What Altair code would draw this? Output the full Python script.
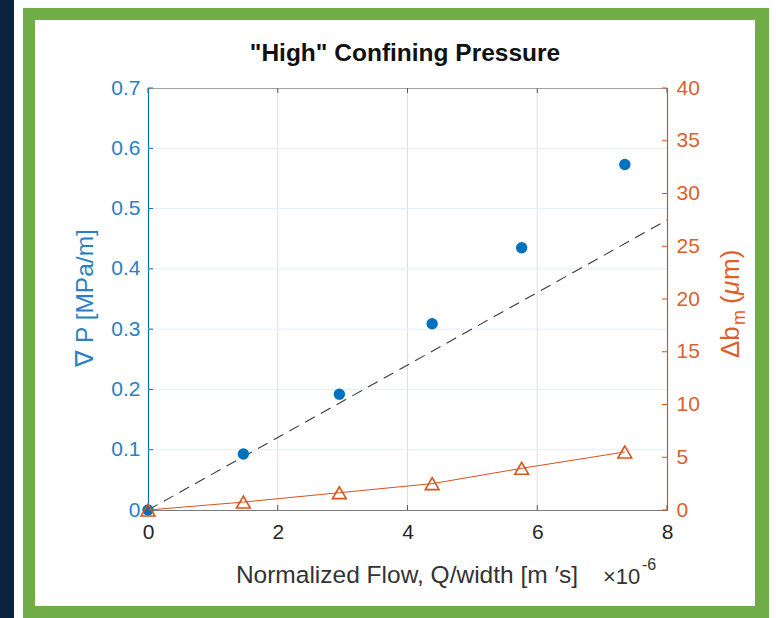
import altair as alt
import pandas as pd

# Measured series (flow in 1e-6 m^2/s)
flow = [0.0, 1.47, 2.95, 4.38, 5.76, 7.35]
grad_p = [0.0, 0.093, 0.192, 0.309, 0.435, 0.573]      # MPa/m
delta_b = [0.0, 0.75, 1.64, 2.50, 3.95, 5.50]          # micrometres

# Linear fit through the origin
fit_flow = [0.0, 8.0]
fit_grad = [0.0, 0.481]

x_ticks = [0, 2, 4, 6, 8]
left_ticks = [0, 0.1, 0.2, 0.3, 0.4, 0.5, 0.6, 0.7]
right_ticks = [0, 5, 10, 15, 20, 25, 30, 35, 40]

W, H = 519, 422
PAD_L, PAD_T = 148, 88
FONT = "Liberation Sans"
BLUE = "#0072BD"
BLUE_TXT = "#2a80c6"
ORANGE = "#D95319"
ORANGE_TXT = "#dd5f2b"
DARK = "#262626"
TICK_FS = 21

pts = pd.DataFrame({"flow": flow, "grad_p": grad_p, "delta_b": delta_b})
fit = pd.DataFrame({"flow": fit_flow, "grad_p": fit_grad})
xt = pd.DataFrame({"v": x_ticks})
xt_inner = pd.DataFrame({"v": x_ticks[1:-1]})
lt = pd.DataFrame({"v": left_ticks})
lt_inner = pd.DataFrame({"v": left_ticks[1:-1]})
rt = pd.DataFrame({"v": right_ticks})
one = pd.DataFrame({"k": [0]})

xs = alt.Scale(domain=[0, 8], nice=False, zero=False)
yl = alt.Scale(domain=[0, 0.7], nice=False, zero=False)
yr = alt.Scale(domain=[0, 40], nice=False, zero=False)

x_axis = alt.Axis(
    values=x_ticks, format="d", tickSize=0, labelPadding=11, grid=False,
    labelFlush=False, labelFont=FONT, labelFontSize=TICK_FS, labelColor=DARK,
    domainColor="#7a7a7a", domainWidth=1, title=None,
)
left_axis = alt.Axis(
    orient="left", values=left_ticks, tickSize=0, labelPadding=8,
    grid=False, title=None, labelFont=FONT, labelFontSize=TICK_FS,
    labelColor=BLUE_TXT, domainColor=BLUE, domainWidth=1.2, labelFlush=False,
    labelExpr="datum.value == 0 ? '0' : format(datum.value, '.1f')",
)
right_axis = alt.Axis(
    orient="right", values=right_ticks, format="d", tickSize=0,
    labelPadding=9, grid=False, title=None, labelFont=FONT,
    labelFontSize=TICK_FS, labelColor=ORANGE_TXT, domainColor=ORANGE,
    domainWidth=1.2, labelFlush=False,
)


def xq(field):
    return alt.X(f"{field}:Q", scale=xs, axis=x_axis)


def yleft(field):
    return alt.Y(f"{field}:Q", scale=yl, axis=left_axis)


def yright(field):
    return alt.Y(f"{field}:Q", scale=yr, axis=right_axis)


# Page decorations: dark strip and green frame
def band(x0, x1, y0, y1, color):
    return alt.Chart(one).mark_rect(color=color, clip=False).encode(
        x=alt.value(x0 - PAD_L), x2=alt.value(x1 - PAD_L),
        y=alt.value(y0 - PAD_T), y2=alt.value(y1 - PAD_T),
    )


GREEN = "#70AD47"
NAVY = "#0c2340"
deco = [
    band(0, 14, 0, 618, NAVY),
    band(23, 35, 8, 618, GREEN),
    band(23, 769, 8, 20, GREEN),
    band(755, 769, 8, 618, GREEN),
    band(23, 769, 606, 618, GREEN),
]

# Grid lines
vgrid = alt.Chart(xt_inner).mark_rule(color="#dedede", strokeWidth=1).encode(
    x=xq("v"), y=alt.value(0), y2=alt.value(H)
)
hgrid = alt.Chart(lt_inner).mark_rule(color="#e3eef7", strokeWidth=1).encode(
    y=yleft("v"), x=alt.value(0), x2=alt.value(W)
)

# Inward ticks
tick_col = "#5a5a5a"
xt_bot = alt.Chart(xt).mark_rule(color=tick_col).encode(
    x=xq("v"), y=alt.value(H - 5), y2=alt.value(H)
)
xt_top = alt.Chart(xt).mark_rule(color=tick_col).encode(
    x=xq("v"), y=alt.value(0), y2=alt.value(5)
)
lt_marks = alt.Chart(lt).mark_rule(color=BLUE).encode(
    y=yleft("v"), x=alt.value(0), x2=alt.value(5)
)

# Left axis series
fit_line = alt.Chart(fit).mark_line(
    color="#3a3a3a", strokeWidth=1.1, strokeDash=[11, 7]
).encode(x=xq("flow"), y=yleft("grad_p"))

dots = alt.Chart(pts).mark_point(
    shape="circle", filled=True, color=BLUE, size=130, opacity=1
).encode(x=xq("flow"), y=yleft("grad_p"))

left = alt.layer(*deco, vgrid, hgrid, xt_bot, xt_top, lt_marks, fit_line, dots)

# Right axis series
rt_marks = alt.Chart(rt).mark_rule(color=ORANGE).encode(
    y=yright("v"), x=alt.value(W - 5), x2=alt.value(W)
)
b_line = alt.Chart(pts).mark_line(color=ORANGE, strokeWidth=1).encode(
    x=xq("flow"), y=yright("delta_b")
)
tris = alt.Chart(pts).mark_point(
    shape="triangle-up", filled=False, color=ORANGE, size=190, strokeWidth=1.6,
    opacity=1,
).encode(x=xq("flow"), y=yright("delta_b"))
right = alt.layer(rt_marks, b_line, tris)


# Titles drawn as text at fixed positions around the plot area
def label(text, x, y, size, color=DARK, weight="normal", angle=0, align="center",
          baseline="middle", style="normal"):
    props = dict(text=text, font=FONT, fontSize=size, color=color,
                 fontWeight=weight, align=align, baseline=baseline,
                 fontStyle=style)
    if angle:
        props["angle"] = angle
    return alt.Chart(one).mark_text(**props).encode(
        x=alt.value(x - PAD_L), y=alt.value(y - PAD_T)
    )


TS = 24.5
RS = 26
texts = [
    label('"High" Confining Pressure', 405, 61, 24.5, color="#111111",
          weight="bold", baseline="alphabetic"),
    label("Normalized Flow, Q/width [m \u2032s]", 407, 583, TS,
          baseline="alphabetic", color="#333333"),
    label("\u00d710", 603, 584, 22, align="left", baseline="alphabetic",
          color="#333333"),
    label("-6", 642, 570, 16, align="left", baseline="alphabetic",
          color="#333333"),
    label("\u2207 P [MPa/m]", 86, 298, TS, color=BLUE_TXT, angle=270),
    # Δb_m (μm), assembled piece by piece so the m sits as a subscript
    label("\u0394b", 739, 358, RS, color=ORANGE_TXT, angle=270, align="left",
          baseline="alphabetic"),
    label("m", 745, 325, 18, color=ORANGE_TXT, angle=270, align="left",
          baseline="alphabetic"),
    label("(", 739, 304, RS, color=ORANGE_TXT, angle=270, align="left",
          baseline="alphabetic"),
    label("\u03bc", 739, 295, RS, color=ORANGE_TXT, angle=270, align="left",
          baseline="alphabetic", style="italic"),
    label("m)", 739, 280, RS, color=ORANGE_TXT, angle=270, align="left",
          baseline="alphabetic"),
]

chart = (
    alt.layer(left, right, *texts)
    .resolve_scale(y="independent")
    .properties(
        width=W, height=H,
        padding={"left": PAD_L, "top": PAD_T, "right": 776 - PAD_L - W,
                 "bottom": 618 - PAD_T - H},
        autosize=alt.AutoSizeParams(type="none"),
        background="white",
    )
    .configure_view(stroke="#a3a3a3", strokeWidth=1)
)

chart.save("out.html", embed_options={"renderer": "svg", "actions": False})
